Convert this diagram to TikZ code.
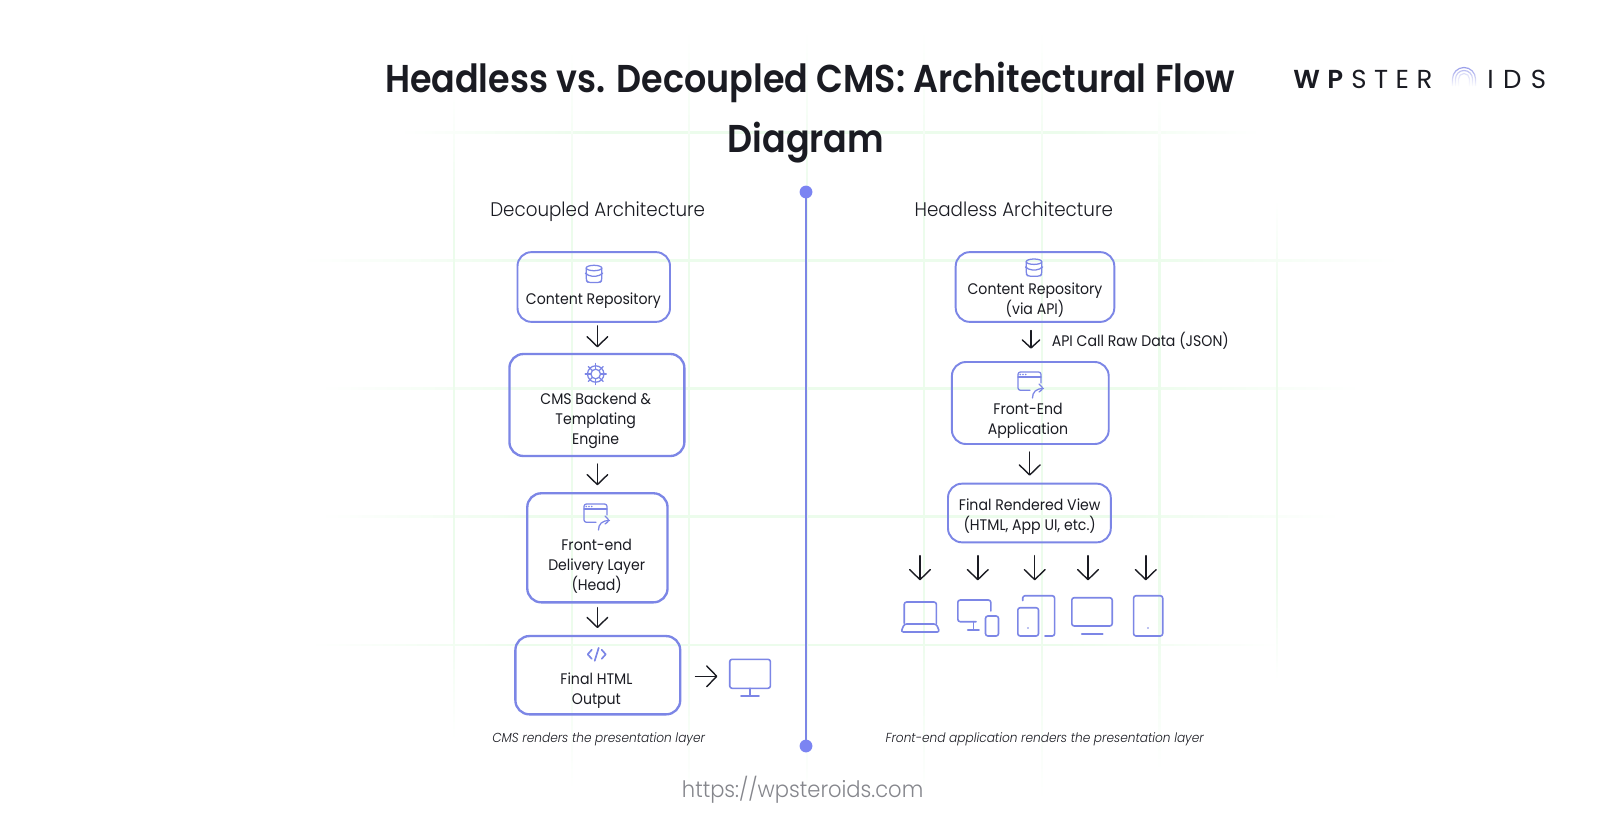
\documentclass[tikz,border=0pt]{standalone}
\usepackage{fontspec}
\usetikzlibrary{arrows.meta,fadings,calc}
\setmainfont{Poppins Light}[FakeStretch=0.93]
\newfontfamily\bodyfont{Poppins}[FakeStretch=0.92]
\newfontfamily\titlefont{Poppins SemiBold}[FakeStretch=0.9]
\newfontfamily\capfont{Poppins Light Italic}[FakeStretch=0.93]
\newfontfamily\logofont{Poppins}[LetterSpace=29]
\newfontfamily\logoboldfont{Poppins SemiBold}[LetterSpace=29]
\newfontfamily\logofontb{Poppins}[LetterSpace=36]
\definecolor{ink}{HTML}{1A1B22}
\definecolor{boxblue}{HTML}{7C86E6}
\definecolor{dotblue}{HTML}{7B84F2}
\definecolor{gridgreen}{HTML}{ECFCEC}
\definecolor{urlgray}{HTML}{85868C}
\pgfdeclarehorizontalshading{gridfade}{100bp}{color(0bp)=(white); color(25bp)=(white); color(36bp)=(gridgreen); color(64bp)=(gridgreen); color(75bp)=(white); color(100bp)=(white)}
\tikzset{
  x=0.75pt,y=-0.75pt,
  flowbox/.style={draw=boxblue,line width=1.75pt,rounded corners=10.5pt,minimum width=#1,inner sep=0pt,outer sep=0pt},
  thinbox/.style={flowbox=#1,line width=1.45pt},
  lbl/.style={inner sep=0pt,outer sep=0pt,align=center,text=ink,font=\bodyfont\fontsize{11.5}{15}\selectfont},
  hdtxt/.style={inner sep=0pt,outer sep=0pt,anchor=base,text=ink,font=\fontsize{14.75}{18}\selectfont},
  captxt/.style={inner sep=0pt,outer sep=0pt,text=ink,font=\capfont\fontsize{9.8}{12}\selectfont},
  conn/.style={draw=ink,line width=1.05pt,line cap=round,line join=round,-{Straight Barb[length=7.5pt,width=15.5pt,line width=1.05pt,round]}},
  connsm/.style={conn,-{Straight Barb[length=6pt,width=13pt,line width=1.05pt,round]}},
  icon/.style={draw=boxblue,line width=1.2pt,line cap=round,line join=round,rounded corners=1.8pt},
  fine/.style={icon,line width=0.95pt},
}
\newcommand\gridH[3]{\shade[shading=gridfade] (#2,#1-0.9) rectangle (#3,#1+0.9);}
\newcommand\gridV[3]{\shade[shading=gridfade,shading angle=90] (#1-0.9,#2) rectangle (#1+0.9,#3);}
\newcommand\dbicon[2]{\begin{scope}[shift={(#1,#2)}]
  \draw[fine,rounded corners=0pt] (0,-6) ellipse [x radius=7.8,y radius=2.7];
  \draw[fine] (-7.8,-6) -- (-7.8,6.5) -- (-6,8.5) -- (6,8.5) -- (7.8,6.5) -- (7.8,-6);
  \draw[fine,rounded corners=3pt] (-7.8,0) -- (-6,2.2) -- (6,2.2) -- (7.8,0);
\end{scope}}
\newcommand\winicon[2]{\begin{scope}[shift={(#1,#2)}]
  \draw[fine] (12,18.3) -- (0,18.3) -- (0,0) -- (23,0) -- (23,11);
  \draw[fine] (0,5) -- (23,5);
  \fill[boxblue] (2.3,2.5) circle (0.9) (5,2.5) circle (0.9) (7.7,2.5) circle (0.9);
  \draw[fine] (14.5,26) .. controls (14.5,20) and (18,16.5) .. (25.5,16.5);
  \draw[fine] (21,12) -- (25.5,16.5) -- (21,20);
\end{scope}}
\begin{document}
\begin{tikzpicture}
\useasboundingbox (0,0) rectangle (1612,818);
\fill[white] (0,0) rectangle (1612,818);
% faint background grid
\gridH{132.7}{400}{1260}\gridH{260.7}{300}{1400}\gridH{388.7}{320}{1360}\gridH{516.7}{320}{1340}\gridH{645}{310}{1280}
\gridV{454}{90}{740}\gridV{572}{50}{790}\gridV{689}{30}{800}\gridV{807}{30}{800}\gridV{924}{30}{800}\gridV{1042}{30}{800}\gridV{1159.5}{90}{770}\gridV{1277}{200}{680}
% title
\node[inner sep=0pt,text=ink,font=\titlefont\fontsize{29.1}{34}\selectfont] (title1) at (810,82) {Headless vs. Decoupled CMS: Architectural Flow};
\node[inner sep=0pt,text=ink,font=\titlefont\fontsize{29.1}{34}\selectfont] (title2) at (806,142.5) {Diagram};
% logo
\node[inner sep=0pt,anchor=base west,text=ink,font=\fontsize{19.5}{20}\selectfont] (logo1) at (1293,88) {{\logoboldfont WP}\kern6pt{\logofont STER}};
\node[inner sep=0pt,anchor=base west,text=ink,font=\logofontb\fontsize{19.5}{20}\selectfont] (logo2) at (1487,88) {IDS};
\foreach \r/\c in {11.5/9A9FEA,8.5/BDC0F2,5.5/DCDEF8}{
  \definecolor{arcc}{HTML}{\c}
  \draw[draw=arcc,line width=0.9pt,path fading=south] (1464-\r,86) -- (1464-\r,79) arc[start angle=180,end angle=360,radius=\r] -- (1464+\r,86);
}
% divider
\node[circle,fill=dotblue,minimum size=9.6pt,inner sep=0pt,outer sep=0pt] (dtop) at (806,192) {};
\node[circle,fill=dotblue,minimum size=9.6pt,inner sep=0pt,outer sep=0pt] (dbot) at (806,746) {};
\draw[draw=boxblue,line width=2.1pt] (dtop) -- (dbot);
% headers
\node[hdtxt] (hl) at (597.7,216) {Decoupled Architecture};
\node[hdtxt] (hr) at (1013.8,216) {Headless Architecture};
% left boxes
\node[thinbox=114.4pt,minimum height=52.3pt] (A) at (593.75,287) {};
\node[flowbox=131.2pt,minimum height=76.5pt] (B) at (596.9,405) {};
\node[flowbox=105.2pt,minimum height=81.8pt] (C) at (597.4,547.8) {};
\node[flowbox=123.6pt,minimum height=58.7pt] (D) at (597.8,675.2) {};
\node[lbl] (Atx) at (593.4,301) {Content Repository};
\node[lbl] (Btx) at (595.7,421) {CMS Backend \&\\Templating\\Engine};
\node[lbl] (Ctx) at (596.7,566.7) {Front-end\\Delivery Layer\\(Head)};
\node[lbl] (Dtx) at (596.4,691) {Final HTML\\Output};
\dbicon{594}{274}
\begin{scope}[shift={(595.7,374)}]
  \draw[fine,rounded corners=0pt] (0,0) circle (4.8) (0,0) circle (8.2);
  \foreach \a in {0,45,...,315}{\draw[fine,rounded corners=0pt] (\a:4.8) -- (\a:10.5);}
\end{scope}
\winicon{584}{504}
\begin{scope}[shift={(596.7,654.3)}]
  \draw[icon,line width=1.25pt,rounded corners=0pt] (-5,-4.5) -- (-9,0) -- (-5,4.5) (5,-4.5) -- (9,0) -- (5,4.5) (2,-6.5) -- (-2,6.5);
\end{scope}
% left connectors
\draw[conn,shorten <=3pt,shorten >=5pt] (597.4,0 |- A.south) -- (597.4,0 |- B.north);
\draw[conn,shorten <=6pt,shorten >=6pt] (597.4,0 |- B.south) -- (597.4,0 |- C.north);
\draw[conn,shorten <=4pt,shorten >=6pt] (597.4,0 |- C.south) -- (597.4,0 |- D.north);
% output monitor
\coordinate (mon) at (729.7,676.3);
\draw[conn,shorten <=11.5pt,shorten >=9.2pt] (D.east |- mon) -- (mon);
\begin{scope}[shift={(729.7,659.3)}]
  \draw[icon] (0,0) rectangle (40.7,29);
  \draw[icon] (20.3,29) -- (20.3,36.7) (11.3,36.7) -- (29.3,36.7);
\end{scope}
\node[captxt] (cl) at (598.7,739.3) {CMS renders the presentation layer};
% right boxes
\node[thinbox=118.95pt,minimum height=52.3pt] (RA) at (1035,287) {};
\node[thinbox=117.6pt,minimum height=61.5pt] (RB) at (1030.3,403) {};
\node[thinbox=122.1pt,minimum height=44pt] (RC) at (1029.4,513) {};
\node[lbl] (RAtx) at (1035,300) {Content Repository\\(via API)};
\node[lbl] (RBtx) at (1028,420.7) {Front-End\\Application};
\node[lbl] (RCtx) at (1029.7,516.7) {Final Rendered View\\(HTML, App UI, etc.)};
\dbicon{1034}{267.7}
\winicon{1018}{372}
\draw[connsm,shorten <=6.5pt,shorten >=10pt] (1031,0 |- RA.south) -- (1031,0 |- RB.north);
\node[lbl,anchor=west] (apilbl) at (1051.8,340.7) {API Call Raw Data (JSON)};
\draw[conn,shorten <=6pt,shorten >=6pt] (1029.7,0 |- RB.south) -- (1029.7,0 |- RC.north);
% device arrows
\foreach \n/\x in {a/920,b/977.8,c/1034.7,d/1088,e/1145.8}{
  \coordinate (dev\n) at (\x,597);
  \draw[conn,shorten <=10pt,shorten >=12.5pt] (dev\n |- RC.south) -- (dev\n);
}
% devices
\draw[icon] (904.2,623.3) -- (904.2,602) -- (936.4,602) -- (936.4,623.3);
\draw[icon] (904.2,624) -- (936.4,624) -- (939.6,632) -- (901,632) -- cycle;
\draw[icon] (976,621.7) -- (957.8,621.7) -- (957.8,600) -- (990.8,600) -- (990.8,611);
\draw[icon] (973.6,621.7) -- (973.6,630) (967.7,630) -- (979,630);
\draw[icon] (985.5,616) rectangle (998.5,636);
\draw[icon] (1017.8,607.7) rectangle (1038.5,636);
\fill[boxblue] (1028,628) circle (0.9);
\draw[icon] (1022.7,600.5) -- (1022.7,595.7) -- (1054.6,595.7) -- (1054.6,636) -- (1044.8,636);
\draw[icon] (1071.8,597.7) rectangle (1112.2,626);
\draw[icon] (1081.7,634) -- (1102.7,634);
\draw[icon] (1133.6,595.7) rectangle (1162.7,636);
\fill[boxblue] (1148,628) circle (0.9);
\node[captxt] (cr) at (1044.7,739.3) {Front-end application renders the presentation layer};
% url
\node[inner sep=0pt,text=urlgray,font=\fontsize{17}{20}\selectfont] (url) at (802.6,790) {https://wpsteroids.com};
\end{tikzpicture}
\end{document}
